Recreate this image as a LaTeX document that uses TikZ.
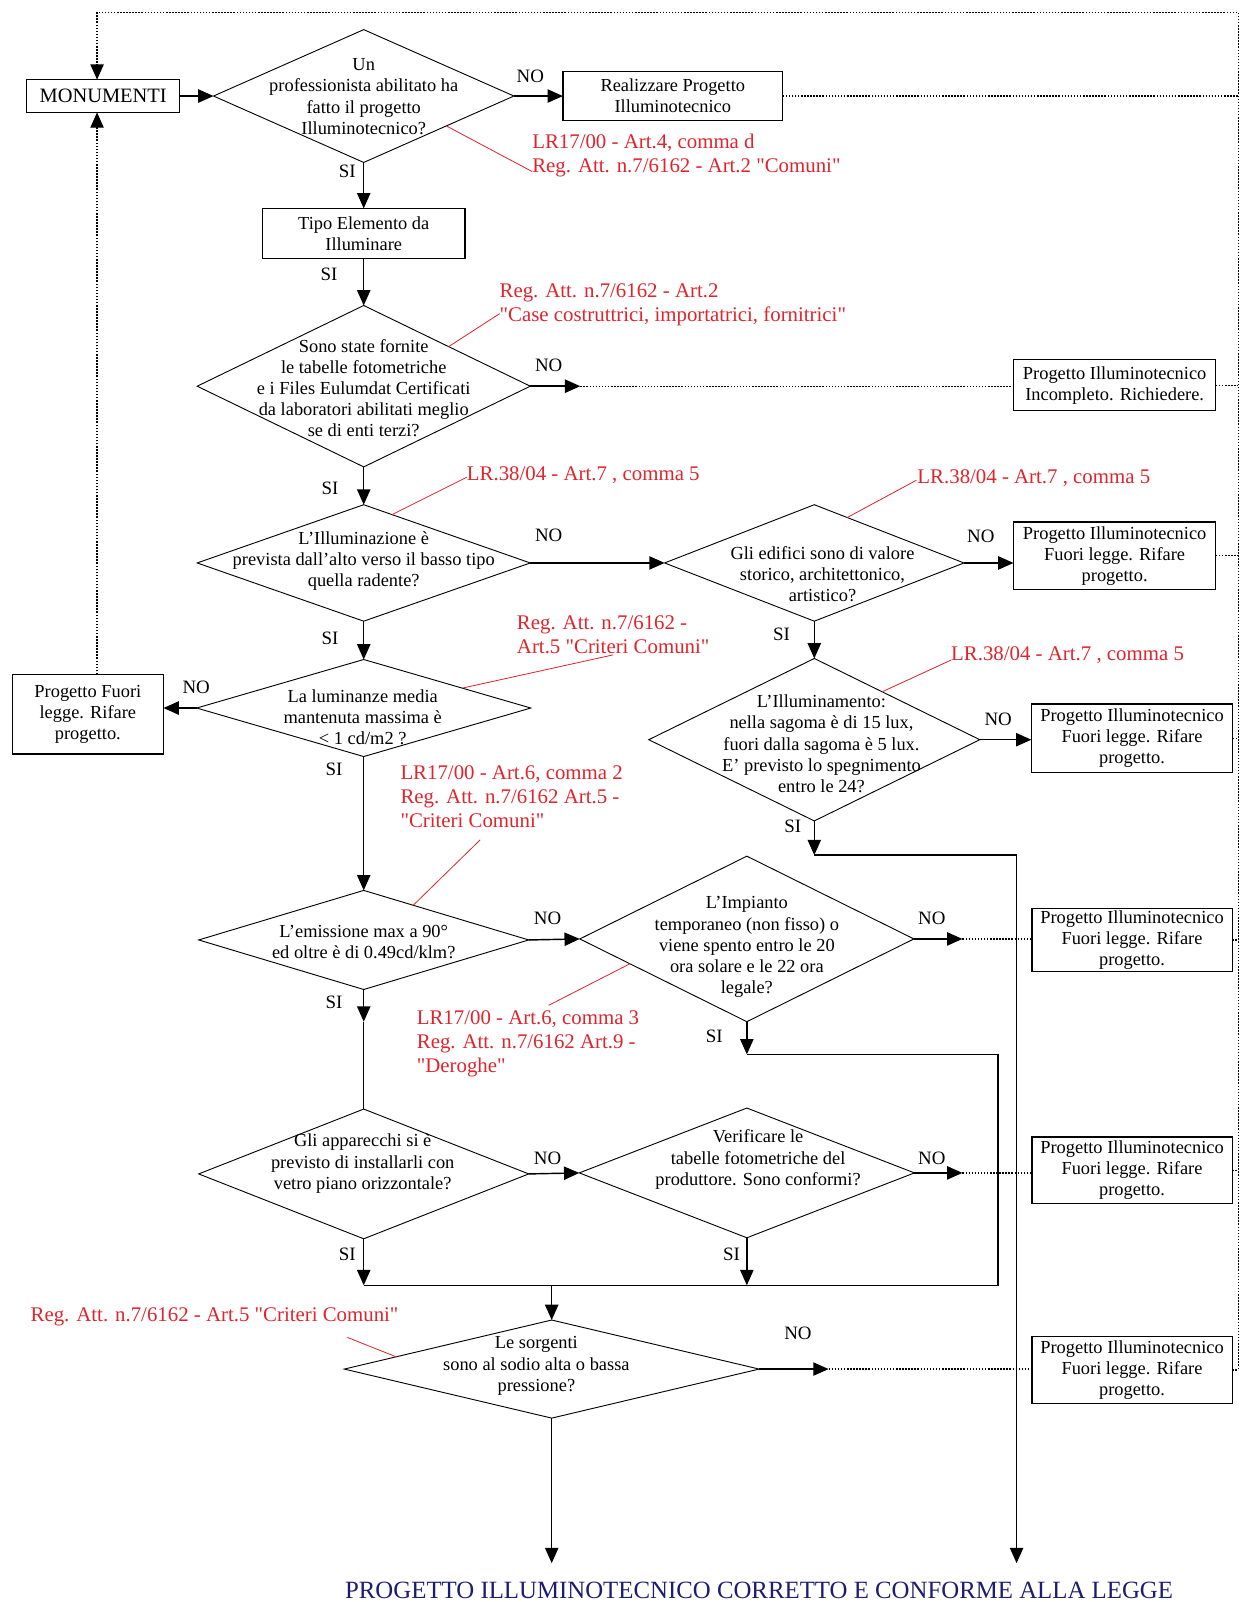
\documentclass[tikz,border=0pt]{standalone}
\usepackage{fontspec}
% straight double quotes are kept as typed; apostrophes are written as ’
\setmainfont{Liberation Serif}[Ligatures=TeXOff]
\usetikzlibrary{shapes.geometric,arrows.meta,calc}
\definecolor{lawred}{RGB}{224,36,44}
\definecolor{navy}{RGB}{28,28,112}

\begin{document}
\begin{tikzpicture}[
  x=1pt, y=-1pt,
  >={Triangle[length=15pt,width=13pt]},
  every node/.style={inner sep=0pt, outer sep=0pt},
  qtxt/.style={font=\fontsize{18}{20.7}\selectfont, align=center},
  qdia/.style={draw, diamond, line width=0.9pt},
  qbox/.style={draw, rectangle, line width=1.3pt, qtxt},
  flowarr/.style={line width=1.4pt, ->},
  plainline/.style={line width=1.4pt},
  backdots/.style={line width=1.3pt, dash pattern=on 1.5pt off 1.5pt},
  leadline/.style={draw=lawred, line width=0.8pt},
  nolab/.style={font=\fontsize{18.5}{20}\selectfont},
  redtext/.style={font=\fontsize{20.4}{23.5}\selectfont, text=lawred, align=left, anchor=west},
  endtitle/.style={font=\fontsize{24.3}{28}\selectfont, text=navy}
]
\useasboundingbox (0,0) rectangle (1216,1568);

% ---------- decision diamonds ----------
\node[qdia, minimum width=294pt, minimum height=130pt] (d1)  at (356,94)   {};
\node[qdia, minimum width=326pt, minimum height=158pt] (d2)  at (356,378)  {};
\node[qdia, minimum width=326pt, minimum height=114pt] (d3)  at (356,551)  {};
\node[qdia, minimum width=293pt, minimum height=114pt] (d4)  at (797,551)  {};
\node[qdia, minimum width=327pt, minimum height=95pt]  (d5)  at (356,693)  {};
\node[qdia, minimum width=324pt, minimum height=159pt] (d8)  at (797,724)  {};
\node[qdia, minimum width=323pt, minimum height=97pt]  (d6)  at (356,920)  {};
\node[qdia, minimum width=327pt, minimum height=162pt] (d7)  at (731,919)  {};
\node[qdia, minimum width=323pt, minimum height=127pt] (d10) at (356,1149) {};
\node[qdia, minimum width=328pt, minimum height=127pt] (d11) at (731,1148) {};
\node[qdia, minimum width=406pt, minimum height=96pt]  (d9)  at (540,1340) {};

% ---------- diamond texts ----------
\node[qtxt] (d1t)  at (356,94.5) {Un\\professionista abilitato ha\\fatto il progetto\\Illuminotecnico?};
\node[qtxt] (d2t)  at (356,380)  {Sono state fornite\\le tabelle fotometriche\\e i Files Eulumdat Certificati\\da laboratori abilitati meglio\\se di enti terzi?};
\node[qtxt] (d3t)  at (356,549)  {L’Illuminazione è\\prevista dall’alto verso il basso tipo\\quella radente?};
\node[qtxt] (d4t)  at (805,562)  {Gli edifici sono di valore\\storico, architettonico,\\artistico?};
\node[qtxt] (d5t)  at (355,702)  {La luminanze media\\mantenuta massima è\\< 1 cd/m2 ?};
\node[qtxt] (d8t)  at (804,728)  {L’Illuminamento:\\nella sagoma è di 15 lux,\\fuori dalla sagoma è 5 lux.\\E’ previsto lo spegnimento\\entro le 24?};
\node[qtxt] (d6t)  at (356,922)  {L’emissione max a 90°\\ed oltre è di 0.49cd/klm?};
\node[qtxt] (d7t)  at (731,927)  {L’Impianto\\temporaneo (non fisso) o\\viene spento entro le 20\\ora solare e le 22 ora\\legale?};
\node[qtxt] (d10t) at (355,1139) {Gli apparecchi si è\\previsto di installarli con\\vetro piano orizzontale?};
\node[qtxt] (d11t) at (742,1135) {Verificare le\\tabelle fotometriche del\\produttore. Sono conformi?};
\node[qtxt] (d9t)  at (525,1337) {Le sorgenti\\sono al sodio alta o bassa\\pressione?};

% ---------- boxes ----------
\node[qbox, minimum width=150pt, minimum height=32pt, font=\fontsize{20}{22}\selectfont] (b0) at (101,94) {MONUMENTI};
\node[qbox, minimum width=215pt, minimum height=48pt] (b1) at (658.5,94)   {Realizzare Progetto\\Illuminotecnico};
\node[qbox, minimum width=198pt, minimum height=49pt] (b2) at (356,228.5)  {Tipo Elemento da\\Illuminare};
\node[qbox, minimum width=198pt, minimum height=50pt] (b3) at (1091,377)   {Progetto Illuminotecnico\\Incompleto. Richiedere.};
\node[qbox, minimum width=198pt, minimum height=66pt] (b4) at (1091,544)   {Progetto Illuminotecnico\\Fuori legge. Rifare\\progetto.};
\node[qbox, minimum width=197pt, minimum height=67pt] (b5) at (1108,722.5) {Progetto Illuminotecnico\\Fuori legge. Rifare\\progetto.};
\node[qbox, minimum width=196pt, minimum height=62pt] (b6) at (1108,920)   {Progetto Illuminotecnico\\Fuori legge. Rifare\\progetto.};
\node[qbox, minimum width=196pt, minimum height=65pt] (b7) at (1108,1145.5){Progetto Illuminotecnico\\Fuori legge. Rifare\\progetto.};
\node[qbox, minimum width=196pt, minimum height=66pt] (b8) at (1108,1341)  {Progetto Illuminotecnico\\Fuori legge. Rifare\\progetto.};
\node[qbox, minimum width=148pt, minimum height=78pt] (bL) at (86,699)     {Progetto Fuori\\legge. Rifare\\progetto.};

\node[endtitle] (fine) at (743,1557) {PROGETTO ILLUMINOTECNICO CORRETTO E CONFORME ALLA LEGGE};

% ---------- routing points ----------
\coordinate (ltop) at (95,12);
\coordinate (rtop) at (1212,12);
\coordinate (rbot) at (1212,1340);
\coordinate (t2)  at (568,378);
\coordinate (t7)  at (942,919);
\coordinate (t11) at (942,1148);
\coordinate (t9)  at (811,1340);
\coordinate (m6)  at (356,1000);
\coordinate (j1)  at (356,1258);
\coordinate (j2)  at (731,1258);
\coordinate (jm)  at (540,1258);
\coordinate (k7)  at (731,1032);
\coordinate (k7r) at (977,1032);
\coordinate (j3)  at (977,1258);
\coordinate (k8)  at (797,837);
\coordinate (k8r) at (995,837);
\coordinate (fin1) at (540,1530);
\coordinate (fin2) at (995,1530);

% ---------- main flow ----------
\draw[flowarr] (b0.east) -- (d1.west);
\draw[flowarr] (d1.east) -- (b1.west);
\draw[flowarr] (d1.south) -- (b2.north);
\draw[flowarr] (b2.south) -- (d2.north);
\draw[flowarr] (d2.east) -- (t2);
\draw[flowarr] (d2.south) -- (d3.north);
\draw[flowarr] (d3.east) -- (d4.west);
\draw[flowarr] (d4.east) -- (b4.west |- d4.east);
\draw[flowarr] (d4.south) -- (d8.north);
\draw[flowarr] (d8.east) -- (b5.west |- d8.east);
\draw[flowarr] (d8.south) -- (k8);
\draw[flowarr] (k8) -- (k8r) -- (fin2);
\draw[flowarr] (d3.south) -- (d5.north);
\draw[flowarr] (d5.west) -- (bL.east |- d5.west);
\draw[flowarr] (d5.south) -- (d6.north);
\draw[flowarr] (d6.east) -- (d7.west);
\draw[flowarr] (d7.east) -- (t7);
\draw[flowarr] (d7.south) -- (k7);
\draw[plainline] (k7) -- (k7r) -- (j3) -- (j1);
\draw[flowarr] (d6.south) -- (m6);
\draw[plainline] (m6) -- (d10.north);
\draw[flowarr] (d10.east) -- (d11.west);
\draw[flowarr] (d11.east) -- (t11);
\draw[flowarr] (d10.south) -- (j1);
\draw[flowarr] (d11.south) -- (j2);
\draw[flowarr] (jm) -- (d9.north);
\draw[flowarr] (d9.east) -- (t9);
\draw[flowarr] (d9.south) -- (fin1);

% ---------- dotted return paths ----------
\draw[backdots] (t2) -- (b3.west |- t2);
\draw[backdots] (t7) -- (b6.west |- t7);
\draw[backdots] (t11) -- (b7.west |- t11);
\draw[backdots] (t9) -- (b8.west |- t9);
\draw[backdots] (b1.east) -- (b1.east -| rtop);
\draw[backdots] (b3.east) -- (b3.east -| rtop);
\draw[backdots] (b4.east) -- (b4.east -| rtop);
\draw[backdots] (b5.east) -- (b5.east -| rtop);
\draw[backdots] (b6.east) -- (b6.east -| rtop);
\draw[backdots] (b7.east) -- (b7.east -| rtop);
\draw[backdots] (b8.east) -- (b8.east -| rtop);
\draw[backdots, ->] (rbot) -- (rtop) -- (ltop) -- (ltop |- b0.north);
\draw[backdots, ->] (bL.north -| ltop) -- (ltop |- b0.south);

% ---------- branch labels ----------
\node[nolab] (n1)  at (519,75)    {NO};
\node[nolab] (n2)  at (537,358)   {NO};
\node[nolab] (n3)  at (537,524)   {NO};
\node[nolab] (n4)  at (960,525)   {NO};
\node[nolab] (n5)  at (192,673)   {NO};
\node[nolab] (n8)  at (977,704)   {NO};
\node[nolab] (n6)  at (536,899)   {NO};
\node[nolab] (n7)  at (912,899)   {NO};
\node[nolab] (n10) at (536,1134)  {NO};
\node[nolab] (n11) at (912,1134)  {NO};
\node[nolab] (n9)  at (781,1305)  {NO};
\node[nolab] (s1)  at (340,168)   {SI};
\node[nolab] (s0)  at (322,269)   {SI};
\node[nolab] (s2)  at (323,478)   {SI};
\node[nolab] (s3)  at (323,625)   {SI};
\node[nolab] (s5)  at (327,753)   {SI};
\node[nolab] (s6)  at (327,981)   {SI};
\node[nolab] (s10) at (340,1228)  {SI};
\node[nolab] (s4)  at (765,621)   {SI};
\node[nolab] (s8)  at (776,809)   {SI};
\node[nolab] (s7)  at (699,1014)  {SI};
\node[nolab] (s11) at (716,1228)  {SI};

% ---------- legal references ----------
\node[redtext] (r1) at (521,152.5) {LR17/00 - Art.4, comma d\\Reg. Att. n.7/6162 - Art.2 "Comuni"};
\node[redtext] (r2) at (489,298)   {Reg. Att. n.7/6162 - Art.2\\"Case costruttrici, importatrici, fornitrici"};
\node[redtext] (r3) at (457,465)   {LR.38/04 - Art.7 , comma 5};
\node[redtext] (r4) at (898,468)   {LR.38/04 - Art.7 , comma 5};
\node[redtext] (r5) at (506,621.5) {Reg. Att. n.7/6162 -\\Art.5 "Criteri Comuni"};
\node[redtext] (r6) at (392,779.5) {LR17/00 - Art.6, comma 2\\Reg. Att. n.7/6162 Art.5 -\\"Criteri Comuni"};
\node[redtext] (r7) at (931,641)   {LR.38/04 - Art.7 , comma 5};
\node[redtext] (r8) at (408,1022)  {LR17/00 - Art.6, comma 3\\Reg. Att. n.7/6162 Art.9 -\\"Deroghe"};
\node[redtext] (r9) at (30,1289)   {Reg. Att. n.7/6162 - Art.5 "Criteri Comuni"};

\coordinate (e1) at (521,168);
\coordinate (e2) at (489,307);
\coordinate (e3) at (457,467);
\coordinate (e4) at (897,470);
\coordinate (e5) at (600,641);
\coordinate (e6) at (470,822);
\coordinate (e7) at (931,646);
\coordinate (e8) at (537,984);
\coordinate (e9) at (340,1309);

\draw[leadline] ($(d1.east)!0.45!(d1.south)$) -- (e1);
\draw[leadline] ($(d2.north)!0.51!(d2.east)$) -- (e2);
\draw[leadline] ($(d3.north)!0.17!(d3.east)$) -- (e3);
\draw[leadline] ($(d4.north)!0.22!(d4.east)$) -- (e4);
\draw[leadline] ($(d5.north)!0.59!(d5.east)$) -- (e5);
\draw[leadline] ($(d6.north)!0.30!(d6.east)$) -- (e6);
\draw[leadline] ($(d8.north)!0.41!(d8.east)$) -- (e7);
\draw[leadline] ($(d7.west)!0.30!(d7.south)$) -- (e8);
\draw[leadline] ($(d9.west)!0.25!(d9.north)$) -- (e9);

\end{tikzpicture}
\end{document}
